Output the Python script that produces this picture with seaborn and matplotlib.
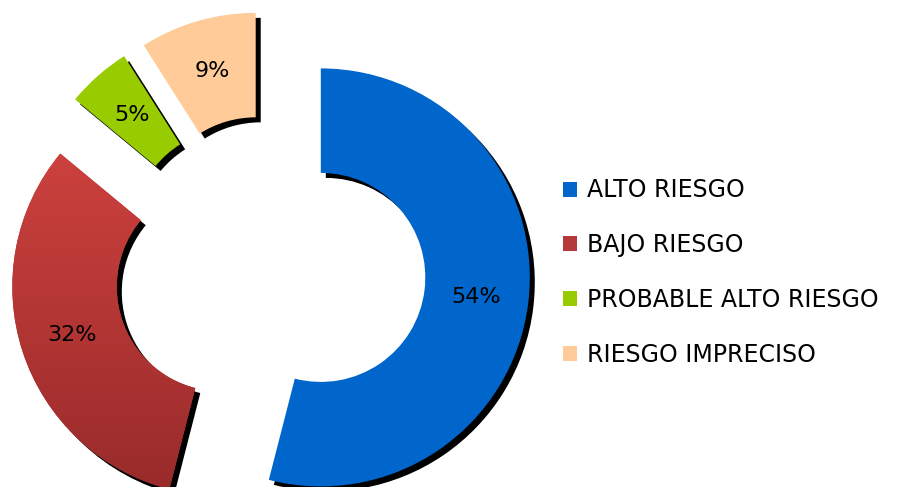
import matplotlib
matplotlib.use("Agg")
import matplotlib.pyplot as plt
import matplotlib.patheffects as pe
import numpy as np
import seaborn as sns
from matplotlib.colors import LinearSegmentedColormap
from matplotlib.patches import Patch

sns.set_theme(style="white")
plt.rcParams["font.family"] = ["DejaVu Sans"]

# data
labels = ["ALTO RIESGO", "BAJO RIESGO", "PROBABLE ALTO RIESGO", "RIESGO IMPRECISO"]
values = [54, 32, 5, 9]
colors = ["#0066CC", "#B5383A", "#99CC00", "#FFCC99"]

fig = plt.figure(figsize=(8.97, 4.87), dpi=100)
ax = fig.add_axes([0, 0, 1, 1])

wedges, texts, autotexts = ax.pie(
    values, colors=colors, startangle=90, counterclock=False,
    explode=[0.245] * 4, radius=1,
    wedgeprops=dict(width=0.5, linewidth=0),
    autopct="%1.0f%%", pctdistance=0.75,
    textprops=dict(fontsize=16, color="black"),
)

# black drop shadow on every slice
for w in wedges:
    w.set_path_effects([
        pe.SimplePatchShadow(offset=(3.6, -3.6), shadow_rgbFace="black", alpha=1),
        pe.Normal(),
    ])

# vertical gradient on the red slice
red = wedges[1]
bb = red.get_path().get_extents()
cmap = LinearSegmentedColormap.from_list("redgrad", ["#992B2B", "#CC413D"])
grad = np.linspace(0, 1, 256).reshape(-1, 1)
im = ax.imshow(grad, cmap=cmap, origin="lower", aspect="auto",
               extent=(bb.x0, bb.x1, bb.y0, bb.y1), zorder=red.get_zorder() + 0.1)
im.set_clip_path(red)
for t in autotexts:
    t.set_zorder(5)

# pixel-exact placement: donut centre at (270, 271) px, radius 209 px
cx, cy, R = 270, 271, 209
ax.set_xlim(-cx / R, (897 - cx) / R)
ax.set_ylim(-(487 - cy) / R, cy / R)
ax.set_aspect("auto")
ax.axis("off")

handles = [Patch(facecolor=c, edgecolor="none") for c in colors]
ax.legend(handles, labels, loc="center left",
          bbox_to_anchor=(563 / 897, 1 - 272.5 / 487), bbox_transform=fig.transFigure,
          frameon=False, fontsize=17, labelcolor="black",
          handlelength=0.6, handleheight=0.6,
          handletextpad=0.4, labelspacing=1.3, borderpad=0, borderaxespad=0)

plt.savefig("out.png", dpi=100)
